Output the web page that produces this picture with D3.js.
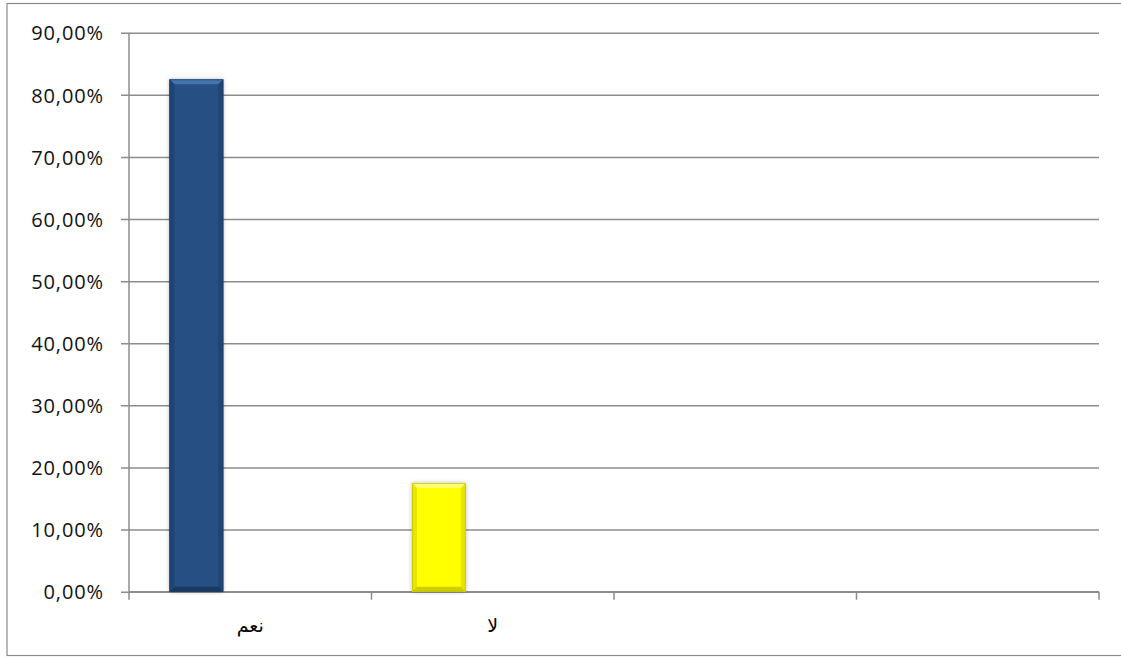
<!DOCTYPE html>
<html><head><meta charset="utf-8">
<script src="https://cdn.jsdelivr.net/npm/d3@7"></script>
<style>
html,body{margin:0;padding:0;background:#fff;overflow:hidden;}
svg{display:block;}
</style></head>
<body>
<svg id="chart" width="1121" height="657"></svg>
<script>
// Data
const categories = ["نعم", "لا", "", ""];
const seriesNames = ["s1", "s2", "s3"];
const values = [0.825, 0.175, null, null]; // first series only
const pointColors = ["#264F83", "#FFFF00", null, null];
const yTicks = [0, 0.1, 0.2, 0.3, 0.4, 0.5, 0.6, 0.7, 0.8, 0.9];

(function () {
const svg = d3.select("#chart");
const pL = 129, pR = 1099, pT = 32.7, pB = 591.7;

// outer border
svg.append("rect").attr("x", 7).attr("y", 3.5).attr("width", 1120).attr("height", 652)
  .attr("fill", "#fff").attr("stroke", "#8a8a8a").attr("stroke-width", 1.2);

const defs = svg.append("defs");
const f = defs.append("filter").attr("id", "sh").attr("x", "-30%").attr("y", "-10%").attr("width", "160%").attr("height", "120%");
f.append("feDropShadow").attr("dx", 0).attr("dy", 0).attr("stdDeviation", 2.2)
  .attr("flood-color", "#000").attr("flood-opacity", 0.28);

const x = d3.scaleBand().domain(d3.range(categories.length)).range([pL, pR]).paddingInner(0).paddingOuter(0);
// Excel clustered layout: 3 series, gap width 150%
const bw = x.bandwidth();
const barW = bw / (seriesNames.length + 1.5);
const xs = d3.scaleBand().domain(seriesNames).range([0.75 * barW, bw - 0.75 * barW]);
const y = d3.scaleLinear().domain([0, 0.9]).range([pB, pT]);

// gridlines with left ticks
const yAxis = d3.axisLeft(y).tickValues(yTicks).tickSize(-(pR - pL)).tickSizeOuter(0)
  .tickFormat(d => d3.format(".2f")(d * 100).replace(".", ",") + "%").tickPadding(25);
const gy = svg.append("g").attr("transform", `translate(${pL},0)`).call(yAxis);
gy.select(".domain").remove();
gy.selectAll(".tick line").attr("x1", -8).attr("stroke", "#8c8c8c").attr("stroke-width", 1.5);
gy.selectAll(".tick text").attr("font-family", "'Open Sans', sans-serif").attr("font-size", 20)
  .attr("letter-spacing", 0.9).attr("fill", "#111").attr("dy", "0.36em");

// y axis line
svg.append("line").attr("x1", pL).attr("x2", pL).attr("y1", pT).attr("y2", pB)
  .attr("stroke", "#8c8c8c").attr("stroke-width", 1.5);

// x axis
const xEdges = d3.range(categories.length + 1).map(i => i < categories.length ? x(i) : x(categories.length - 1) + bw);
const gx = svg.append("g");
gx.append("line").attr("x1", pL).attr("x2", pR).attr("y1", pB).attr("y2", pB)
  .attr("stroke", "#8c8c8c").attr("stroke-width", 1.5);
gx.selectAll("line.t").data(xEdges).join("line").attr("class", "t")
  .attr("x1", d => d).attr("x2", d => d).attr("y1", pB).attr("y2", pB + 8)
  .attr("stroke", "#8c8c8c").attr("stroke-width", 1.5);
gx.selectAll("text").data(categories).join("text")
  .attr("x", (d, i) => x(i) + bw / 2).attr("y", 632)
  .attr("text-anchor", "middle").attr("font-family", "'DejaVu Sans', sans-serif")
  .attr("font-size", 19).attr("fill", "#000").text(d => d);

// bars with bevel
const bars = svg.append("g");
values.forEach((v, i) => {
  if (v == null) return;
  const c = pointColors[i];
  const bx = x(i) + xs("s1"), by = y(v), w = xs.bandwidth(), h = y(0) - y(v);
  const g = bars.append("g");
  g.append("rect").attr("x", bx).attr("y", by).attr("width", w).attr("height", h)
    .attr("fill", c).attr("filter", "url(#sh)");
  const b = 5;
  const isYellow = c.toUpperCase() === "#FFFF00";
  const topC = isYellow ? "#FFFF70" : "#4474B0";
  const sideC = isYellow ? "#E6E600" : "#1F4574";
  const botC = isYellow ? "#CFCF00" : "#1A3A62";
  g.append("polygon").attr("points", [[bx, by], [bx + w, by], [bx + w - b, by + b], [bx + b, by + b]].join(" ")).attr("fill", topC);
  g.append("polygon").attr("points", [[bx, by], [bx + b, by + b], [bx + b, by + h - b], [bx, by + h]].join(" ")).attr("fill", sideC);
  g.append("polygon").attr("points", [[bx + w, by], [bx + w - b, by + b], [bx + w - b, by + h - b], [bx + w, by + h]].join(" ")).attr("fill", sideC);
  g.append("polygon").attr("points", [[bx, by + h], [bx + b, by + h - b], [bx + w - b, by + h - b], [bx + w, by + h]].join(" ")).attr("fill", botC);
  g.append("rect").attr("x", bx + 0.5).attr("y", by + 0.5).attr("width", w - 1).attr("height", h - 1)
    .attr("fill", "none").attr("stroke", isYellow ? "#B8B800" : "#1A3A62").attr("stroke-width", 1).attr("stroke-opacity", 0.6);
});
})();
</script>
</body></html>
